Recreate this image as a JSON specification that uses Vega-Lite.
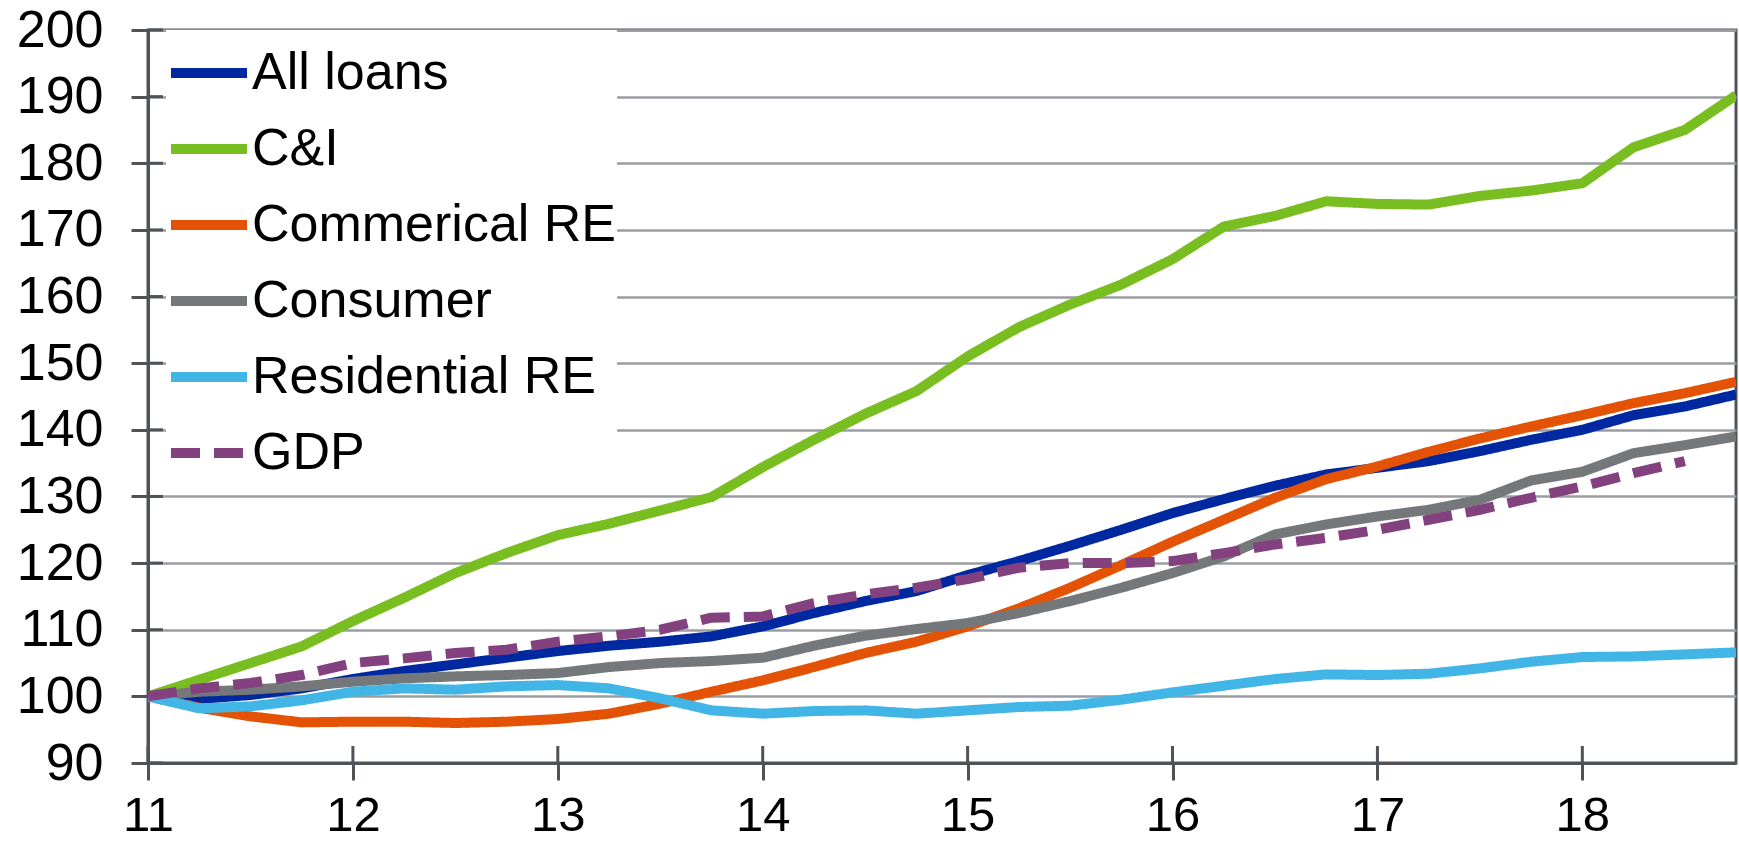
{
  "$schema": "https://vega.github.io/schema/vega-lite/v6.json",
  "width": 1588,
  "height": 733,
  "autosize": {"type": "none"},
  "padding": {"left": 148, "top": 30, "right": 3, "bottom": 82},
  "background": "white",
  "config": {
    "view": {"stroke": "#4F5357", "strokeWidth": 3},
    "font": "Liberation Sans"
  },
  "layer": [
    {
      "data": {"values": [{"t": 11}, {"t": 12}, {"t": 13}, {"t": 14}, {"t": 15}, {"t": 16}, {"t": 17}, {"t": 18}]},
      "mark": {"type": "rule", "color": "#4F5357", "strokeWidth": 3},
      "encoding": {
        "x": {"field": "t", "type": "quantitative"},
        "y": {"datum": 90},
        "y2": {"datum": 92.55}
      }
    },
    {
      "data": {"values": [{"g": 90}, {"g": 100}, {"g": 110}, {"g": 120}, {"g": 130}, {"g": 140}, {"g": 150}, {"g": 160}, {"g": 170}, {"g": 180}, {"g": 190}, {"g": 200}]},
      "mark": {"type": "rule", "color": "#4F5357", "strokeWidth": 3},
      "encoding": {
        "y": {"field": "g", "type": "quantitative"},
        "x": {"datum": 11},
        "x2": {"datum": 11.073}
      }
    },
    {
      "data": {"values": [
        {"t":11,"s":"All loans","v":100},{"t":11.25,"s":"All loans","v":99.6},{"t":11.5,"s":"All loans","v":100.2},{"t":11.75,"s":"All loans","v":101.2},
        {"t":12,"s":"All loans","v":102.6},{"t":12.25,"s":"All loans","v":103.8},{"t":12.5,"s":"All loans","v":104.8},{"t":12.75,"s":"All loans","v":105.8},
        {"t":13,"s":"All loans","v":106.8},{"t":13.25,"s":"All loans","v":107.6},{"t":13.5,"s":"All loans","v":108.2},{"t":13.75,"s":"All loans","v":109},
        {"t":14,"s":"All loans","v":110.5},{"t":14.25,"s":"All loans","v":112.5},{"t":14.5,"s":"All loans","v":114.3},{"t":14.75,"s":"All loans","v":115.8},
        {"t":15,"s":"All loans","v":118.2},{"t":15.25,"s":"All loans","v":120.3},{"t":15.5,"s":"All loans","v":122.6},{"t":15.75,"s":"All loans","v":125},
        {"t":16,"s":"All loans","v":127.5},{"t":16.25,"s":"All loans","v":129.6},{"t":16.5,"s":"All loans","v":131.6},{"t":16.75,"s":"All loans","v":133.3},
        {"t":17,"s":"All loans","v":134.3},{"t":17.25,"s":"All loans","v":135.3},{"t":17.5,"s":"All loans","v":136.8},{"t":17.75,"s":"All loans","v":138.5},
        {"t":18,"s":"All loans","v":140},{"t":18.25,"s":"All loans","v":142.2},{"t":18.5,"s":"All loans","v":143.5},{"t":18.75,"s":"All loans","v":145.3},

        {"t":11,"s":"C&I","v":100},{"t":11.25,"s":"C&I","v":102.5},{"t":11.5,"s":"C&I","v":105},{"t":11.75,"s":"C&I","v":107.5},
        {"t":12,"s":"C&I","v":111.3},{"t":12.25,"s":"C&I","v":114.8},{"t":12.5,"s":"C&I","v":118.5},{"t":12.75,"s":"C&I","v":121.5},
        {"t":13,"s":"C&I","v":124.2},{"t":13.25,"s":"C&I","v":125.9},{"t":13.5,"s":"C&I","v":127.9},{"t":13.75,"s":"C&I","v":129.9},
        {"t":14,"s":"C&I","v":134.4},{"t":14.25,"s":"C&I","v":138.5},{"t":14.5,"s":"C&I","v":142.4},{"t":14.75,"s":"C&I","v":145.8},
        {"t":15,"s":"C&I","v":151},{"t":15.25,"s":"C&I","v":155.4},{"t":15.5,"s":"C&I","v":158.8},{"t":15.75,"s":"C&I","v":161.8},
        {"t":16,"s":"C&I","v":165.6},{"t":16.25,"s":"C&I","v":170.5},{"t":16.5,"s":"C&I","v":172.1},{"t":16.75,"s":"C&I","v":174.3},
        {"t":17,"s":"C&I","v":173.9},{"t":17.25,"s":"C&I","v":173.8},{"t":17.5,"s":"C&I","v":175.1},{"t":17.75,"s":"C&I","v":175.9},
        {"t":18,"s":"C&I","v":177},{"t":18.25,"s":"C&I","v":182.4},{"t":18.5,"s":"C&I","v":185},{"t":18.75,"s":"C&I","v":190.2},

        {"t":11,"s":"Commerical RE","v":100},{"t":11.25,"s":"Commerical RE","v":98.3},{"t":11.5,"s":"Commerical RE","v":97},{"t":11.75,"s":"Commerical RE","v":96.1},
        {"t":12,"s":"Commerical RE","v":96.2},{"t":12.25,"s":"Commerical RE","v":96.2},{"t":12.5,"s":"Commerical RE","v":96},{"t":12.75,"s":"Commerical RE","v":96.2},
        {"t":13,"s":"Commerical RE","v":96.6},{"t":13.25,"s":"Commerical RE","v":97.4},{"t":13.5,"s":"Commerical RE","v":98.9},{"t":13.75,"s":"Commerical RE","v":100.7},
        {"t":14,"s":"Commerical RE","v":102.4},{"t":14.25,"s":"Commerical RE","v":104.4},{"t":14.5,"s":"Commerical RE","v":106.5},{"t":14.75,"s":"Commerical RE","v":108.2},
        {"t":15,"s":"Commerical RE","v":110.5},{"t":15.25,"s":"Commerical RE","v":113.2},{"t":15.5,"s":"Commerical RE","v":116.3},{"t":15.75,"s":"Commerical RE","v":119.7},
        {"t":16,"s":"Commerical RE","v":123.2},{"t":16.25,"s":"Commerical RE","v":126.5},{"t":16.5,"s":"Commerical RE","v":129.8},{"t":16.75,"s":"Commerical RE","v":132.6},
        {"t":17,"s":"Commerical RE","v":134.5},{"t":17.25,"s":"Commerical RE","v":136.7},{"t":17.5,"s":"Commerical RE","v":138.7},{"t":17.75,"s":"Commerical RE","v":140.5},
        {"t":18,"s":"Commerical RE","v":142.2},{"t":18.25,"s":"Commerical RE","v":144},{"t":18.5,"s":"Commerical RE","v":145.5},{"t":18.75,"s":"Commerical RE","v":147.2},

        {"t":11,"s":"Consumer","v":100},{"t":11.25,"s":"Consumer","v":100.7},{"t":11.5,"s":"Consumer","v":101},{"t":11.75,"s":"Consumer","v":101.5},
        {"t":12,"s":"Consumer","v":102.2},{"t":12.25,"s":"Consumer","v":102.7},{"t":12.5,"s":"Consumer","v":103},{"t":12.75,"s":"Consumer","v":103.2},
        {"t":13,"s":"Consumer","v":103.5},{"t":13.25,"s":"Consumer","v":104.4},{"t":13.5,"s":"Consumer","v":105},{"t":13.75,"s":"Consumer","v":105.3},
        {"t":14,"s":"Consumer","v":105.8},{"t":14.25,"s":"Consumer","v":107.6},{"t":14.5,"s":"Consumer","v":109.1},{"t":14.75,"s":"Consumer","v":110.1},
        {"t":15,"s":"Consumer","v":111},{"t":15.25,"s":"Consumer","v":112.5},{"t":15.5,"s":"Consumer","v":114.3},{"t":15.75,"s":"Consumer","v":116.3},
        {"t":16,"s":"Consumer","v":118.5},{"t":16.25,"s":"Consumer","v":121},{"t":16.5,"s":"Consumer","v":124.3},{"t":16.75,"s":"Consumer","v":125.8},
        {"t":17,"s":"Consumer","v":127},{"t":17.25,"s":"Consumer","v":128},{"t":17.5,"s":"Consumer","v":129.5},{"t":17.75,"s":"Consumer","v":132.4},
        {"t":18,"s":"Consumer","v":133.7},{"t":18.25,"s":"Consumer","v":136.5},{"t":18.5,"s":"Consumer","v":137.7},{"t":18.75,"s":"Consumer","v":139},

        {"t":11,"s":"Residential RE","v":100},{"t":11.25,"s":"Residential RE","v":98.2},{"t":11.5,"s":"Residential RE","v":98.5},{"t":11.75,"s":"Residential RE","v":99.4},
        {"t":12,"s":"Residential RE","v":100.7},{"t":12.25,"s":"Residential RE","v":101.2},{"t":12.5,"s":"Residential RE","v":101},{"t":12.75,"s":"Residential RE","v":101.5},
        {"t":13,"s":"Residential RE","v":101.7},{"t":13.25,"s":"Residential RE","v":101.2},{"t":13.5,"s":"Residential RE","v":99.7},{"t":13.75,"s":"Residential RE","v":97.9},
        {"t":14,"s":"Residential RE","v":97.4},{"t":14.25,"s":"Residential RE","v":97.8},{"t":14.5,"s":"Residential RE","v":97.9},{"t":14.75,"s":"Residential RE","v":97.4},
        {"t":15,"s":"Residential RE","v":97.9},{"t":15.25,"s":"Residential RE","v":98.4},{"t":15.5,"s":"Residential RE","v":98.6},{"t":15.75,"s":"Residential RE","v":99.5},
        {"t":16,"s":"Residential RE","v":100.6},{"t":16.25,"s":"Residential RE","v":101.6},{"t":16.5,"s":"Residential RE","v":102.6},{"t":16.75,"s":"Residential RE","v":103.3},
        {"t":17,"s":"Residential RE","v":103.2},{"t":17.25,"s":"Residential RE","v":103.4},{"t":17.5,"s":"Residential RE","v":104.2},{"t":17.75,"s":"Residential RE","v":105.2},
        {"t":18,"s":"Residential RE","v":105.9},{"t":18.25,"s":"Residential RE","v":106},{"t":18.5,"s":"Residential RE","v":106.3},{"t":18.75,"s":"Residential RE","v":106.6},

        {"t":11,"s":"GDP","v":100},{"t":11.25,"s":"GDP","v":101.2},{"t":11.5,"s":"GDP","v":102},{"t":11.75,"s":"GDP","v":103.2},
        {"t":12,"s":"GDP","v":105},{"t":12.25,"s":"GDP","v":105.7},{"t":12.5,"s":"GDP","v":106.5},{"t":12.75,"s":"GDP","v":107},
        {"t":13,"s":"GDP","v":108.2},{"t":13.25,"s":"GDP","v":109},{"t":13.5,"s":"GDP","v":110},{"t":13.75,"s":"GDP","v":111.8},
        {"t":14,"s":"GDP","v":112},{"t":14.25,"s":"GDP","v":114},{"t":14.5,"s":"GDP","v":115.3},{"t":14.75,"s":"GDP","v":116.3},
        {"t":15,"s":"GDP","v":117.6},{"t":15.25,"s":"GDP","v":119.3},{"t":15.5,"s":"GDP","v":120},{"t":15.75,"s":"GDP","v":120},
        {"t":16,"s":"GDP","v":120.3},{"t":16.25,"s":"GDP","v":121.5},{"t":16.5,"s":"GDP","v":122.8},{"t":16.75,"s":"GDP","v":123.8},
        {"t":17,"s":"GDP","v":125},{"t":17.25,"s":"GDP","v":126.5},{"t":17.5,"s":"GDP","v":128},{"t":17.75,"s":"GDP","v":129.8},
        {"t":18,"s":"GDP","v":131.5},{"t":18.25,"s":"GDP","v":133.5},{"t":18.5,"s":"GDP","v":135.3}
      ]},
      "mark": {"type": "line", "strokeWidth": 10, "strokeCap": "butt", "strokeJoin": "round", "clip": true},
      "encoding": {
        "x": {
          "field": "t", "type": "quantitative",
          "scale": {"domain": [11, 18.75], "nice": false, "zero": false},
          "axis": {
            "title": null, "values": [11, 12, 13, 14, 15, 16, 17, 18], "format": "d",
            "grid": false, "domainColor": "#4F5357", "domainWidth": 3,
            "tickColor": "#4F5357", "tickWidth": 3, "tickSize": 17,
            "labelFontSize": 49, "labelFont": "Liberation Sans", "labelColor": "black",
            "labelPadding": 11, "labelFlush": false, "labelOverlap": false
          }
        },
        "y": {
          "field": "v", "type": "quantitative",
          "scale": {"domain": [90, 200], "nice": false, "zero": false},
          "axis": {
            "title": null, "values": [90, 100, 110, 120, 130, 140, 150, 160, 170, 180, 190, 200],
            "grid": true, "gridColor": "#9A9DA1", "gridWidth": 2.5,
            "domainColor": "#4F5357", "domainWidth": 3,
            "tickColor": "#4F5357", "tickWidth": 3, "tickSize": 17,
            "labelFontSize": 52, "labelFont": "Liberation Sans", "labelColor": "black",
            "labelPadding": 28, "labelOverlap": false
          }
        },
        "color": {
          "field": "s", "type": "nominal",
          "scale": {
            "domain": ["All loans", "C&I", "Commerical RE", "Consumer", "Residential RE", "GDP"],
            "range": ["#0028A0", "#78BE20", "#E35205", "#75787B", "#41B6E6", "#84417F"]
          },
          "legend": {
            "title": null, "orient": "none", "legendX": 18, "legendY": 0,
            "symbolType": "stroke", "symbolStrokeWidth": 10, "symbolSize": 5776,
            "labelFontSize": 52, "labelFont": "Liberation Sans", "labelColor": "black",
            "labelOffset": 0, "fillColor": "white", "padding": 0, "rowPadding": 7,
            "labelLimit": 700
          }
        },
        "strokeDash": {
          "field": "s", "type": "nominal",
          "scale": {
            "domain": ["All loans", "C&I", "Commerical RE", "Consumer", "Residential RE", "GDP"],
            "range": [[1, 0], [1, 0], [1, 0], [1, 0], [1, 0], [29, 14]]
          },
          "legend": {
            "title": null, "orient": "none", "legendX": 18, "legendY": 0,
            "symbolType": "stroke", "symbolStrokeWidth": 10, "symbolSize": 5776,
            "labelFontSize": 52, "labelFont": "Liberation Sans", "labelColor": "black",
            "labelOffset": 0, "fillColor": "white", "padding": 0, "rowPadding": 7,
            "labelLimit": 700
          }
        }
      }
    }
  ]
}
